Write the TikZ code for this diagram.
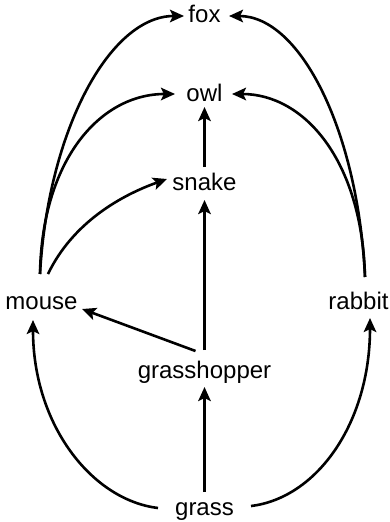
\documentclass[tikz,border=0pt]{standalone}
\usepackage{fontspec}
\setmainfont{Liberation Sans}
\usetikzlibrary{arrows.meta,calc}
\begin{document}
\begin{tikzpicture}[x=1pt,y=-1pt,
  species/.style={inner sep=0pt, anchor=base, font=\fontsize{24}{28}\selectfont},
  feeds/.style={line width=2.6pt, -{Stealth[length=14pt,width=12.5pt,inset=3pt]}}]
\useasboundingbox (0,0) rectangle (390,522);

% species, placed by their text baselines
\node[species] (fox)         at (204.5,23)  {fox};
\node[species] (owl)         at (204.5,101) {owl};
\node[species] (snake)       at (204.5,190) {snake};
\node[species] (mouse)       at (41.5,309)  {mouse};
\node[species] (rabbit)      at (358.5,309) {rabbit};
\node[species] (grasshopper) at (204.5,378) {grasshopper};
\node[species] (grass)       at (204.5,515) {grass};

% straight links up the middle
\draw[feeds] ($(grass.base)+(0,-23)$) -- ($(grasshopper.base)+(0,9)$);
\draw[feeds] ($(grasshopper.base)+(0,-28)$) -- ($(snake.base)+(0,10)$);
\draw[feeds] ($(snake.base)+(0,-23)$) -- ($(owl.base)+(0,6)$);
\draw[feeds] ($(grasshopper.base)+(-9,-27)$) -- ($(mouse.base)+(40.5,0)$);

% grass to the two side herbivores
\draw[feeds] ($(grass.base)+(-46.5,-7)$)
  .. controls +(-66,-8) and +(0,105) .. ($(mouse.base)+(-8.5,11)$);
\draw[feeds] ($(grass.base)+(46.5,-9)$)
  .. controls +(66,-8) and +(0,105) .. ($(rabbit.base)+(11.5,9)$);

% mouse to its predators
\draw[feeds] ($(mouse.base)+(6.5,-35)$)
  .. controls +(25,-52) and +(-45,16) .. ($(snake.base)+(-37.5,-11)$);
\draw[feeds] ($(mouse.base)+(-1.5,-35)$)
  .. controls +(2,-114) and +(-75,0) .. ($(owl.base)+(-29.5,-7)$);
\draw[feeds] ($(mouse.base)+(-1.5,-35)$)
  .. controls +(8,-144) and +(-74,0) .. ($(fox.base)+(-20.5,-7)$);

% rabbit to its predators
\draw[feeds] ($(rabbit.base)+(6.5,-32)$)
  .. controls +(-3,-117) and +(72,0) .. ($(owl.base)+(27.5,-7)$);
\draw[feeds] ($(rabbit.base)+(6.5,-32)$)
  .. controls +(-7,-147) and +(71,0) .. ($(fox.base)+(24.5,-7)$);
\end{tikzpicture}
\end{document}
